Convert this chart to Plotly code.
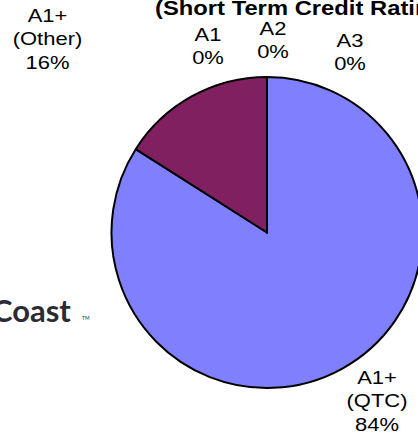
import json
import plotly.graph_objects as go

# Portfolio split by short-term credit rating (percent of holdings)
ratings = ["A1+<br>(QTC)", "A1+<br>(Other)", "A1", "A2", "A3"]
shares = [84, 16, 0, 0, 0]
slice_colors = ["#8080FF", "#802060", "#FFFFCC", "#CCFFFF", "#660066"]
subtitle = "(Short Term Credit Ratings)"
brand = "Coast"

W, H = 424, 437
TEXT_STRETCH = 1.22  # horizontal stretch applied to the chart's text


def px_x(x):
    return x / W


def px_y(y):
    return 1 - y / H


fig = go.Figure(
    go.Pie(
        labels=ratings,
        values=shares,
        sort=False,
        direction="clockwise",
        rotation=0,
        textinfo="none",
        hoverinfo="label+percent",
        marker=dict(colors=slice_colors, line=dict(color="black", width=2)),
        domain=dict(x=[px_x(111.5), px_x(422.5)], y=[px_y(388), px_y(77)]),
        showlegend=False,
    )
)

# label centres (px) for each slice, in the same order as ratings
label_pos = [(377, 401), (47, 39), (208, 46), (273, 40), (350, 53)]
annotations = []
for name, val, (lx, ly) in zip(ratings, shares, label_pos):
    annotations.append(
        dict(
            x=px_x(lx), y=px_y(ly), xref="paper", yref="paper",
            text=f"{name}<br>{val}%", showarrow=False,
            xanchor="center", yanchor="middle",
            font=dict(family="Arial, Liberation Sans", size=18, color="black"),
        )
    )
stretch_center = list(range(len(annotations)))

title_index = len(annotations)
annotations.append(
    dict(
        x=px_x(153), y=px_y(8), xref="paper", yref="paper",
        text=f"<b>{subtitle}</b>", showarrow=False,
        xanchor="left", yanchor="middle",
        font=dict(family="Arial, Liberation Sans", size=19.5, color="black"),
    )
)

# brand mark at the lower left
annotations.append(
    dict(
        x=px_x(73), y=px_y(310), xref="paper", yref="paper",
        text=f"<b>{brand}</b>", showarrow=False,
        xanchor="right", yanchor="middle",
        font=dict(family="Lato, Open Sans", size=31, color="#2b2b33"),
    )
)
annotations.append(
    dict(
        x=px_x(80), y=px_y(318), xref="paper", yref="paper",
        text="TM", showarrow=False,
        xanchor="left", yanchor="middle",
        font=dict(family="Lato, Open Sans", size=5, color="#2b2b33"),
    )
)

fig.update_layout(
    width=W, height=H,
    margin=dict(l=0, r=0, t=0, b=0),
    paper_bgcolor="white", plot_bgcolor="white",
    annotations=annotations,
)

stretch_js = """
document.documentElement.style.overflow='hidden';
document.body.style.overflow='hidden';
var centred = %s, leftIdx = %d, k = %f;
document.querySelectorAll('g.annotation').forEach(function(g){
  var i = parseInt(g.getAttribute('data-index'));
  var t = g.querySelector('text.annotation-text');
  if (!t) return;
  if (centred.indexOf(i) >= 0 || i === leftIdx) {
    t.style.transformBox = 'fill-box';
    t.style.transformOrigin = (i === leftIdx) ? 'left center' : 'center';
    t.style.transform = 'scaleX(' + k + ')';
  }
});
""" % (json.dumps(stretch_center), title_index, TEXT_STRETCH)

fig.write_html(
    "out.html",
    config={"displayModeBar": False, "responsive": False},
    post_script=stretch_js,
)
